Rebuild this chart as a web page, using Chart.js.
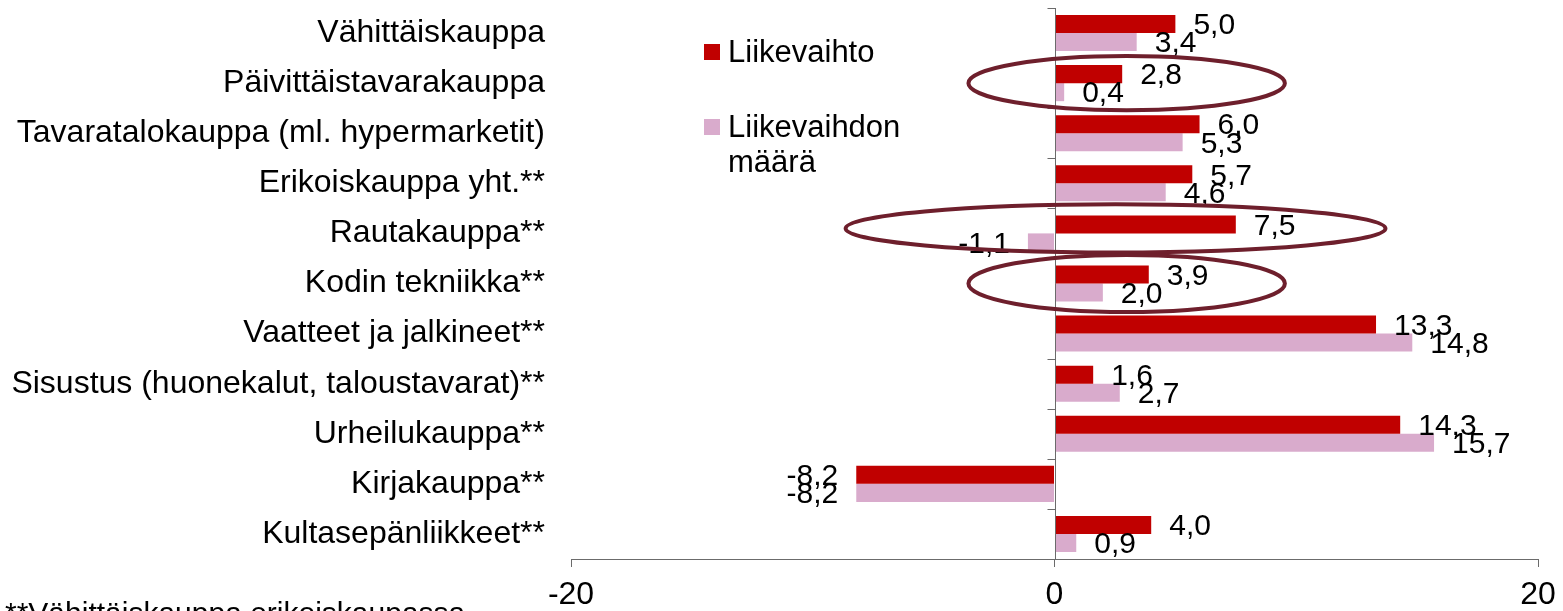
<!DOCTYPE html>
<html lang="fi">
<head>
<meta charset="utf-8">
<title>Liikevaihto toimialoittain</title>
<script src="https://cdn.jsdelivr.net/npm/chart.js@4/dist/chart.umd.min.js"></script>
<style>
  html, body { margin: 0; padding: 0; background: #fff; overflow: hidden; }
</style>
</head>
<body>
<canvas id="kaavio" width="1563" height="611"></canvas>
<script>
// Toimialat (ylhäältä alas)
var toimialat = [
  'Vähittäiskauppa',
  'Päivittäistavarakauppa',
  'Tavaratalokauppa (ml. hypermarketit)',
  'Erikoiskauppa yht.**',
  'Rautakauppa**',
  'Kodin tekniikka**',
  'Vaatteet ja jalkineet**',
  'Sisustus (huonekalut, taloustavarat)**',
  'Urheilukauppa**',
  'Kirjakauppa**',
  'Kultasepänliikkeet**'
];

// Muutos-% (luettu kuvasta)
var liikevaihto = [5.0, 2.8, 6.0, 5.7, 7.5, 3.9, 13.3, 1.6, 14.3, -8.2, 4.0];
var liikevaihdonMaara = [3.4, 0.4, 5.3, 4.6, -1.1, 2.0, 14.8, 2.7, 15.7, -8.2, 0.9];

// X-akselin asteikko
var xMin = -20;
var xMax = 20;
var xVali = 20;

var alaviite = '**Vähittäiskauppa erikoiskaupassa';

// Korostetut rivit (ellipsit)
var korostukset = [
  { toimiala: 'Päivittäistavarakauppa', alku: -3.56, loppu: 9.53, korkeus: 1.08, siirto: 0 },
  { toimiala: 'Rautakauppa**', alku: -8.64, loppu: 13.69, korkeus: 0.96, siirto: -0.1 },
  { toimiala: 'Kodin tekniikka**', alku: -3.56, loppu: 9.53, korkeus: 1.14, siirto: 0 }
];

var fontti = '"Liberation Sans", Arial, sans-serif';
var harmaa = '#6b6b6b';

// Arvojen tekstit palkkien päähän
var arvoTekstit = {
  id: 'arvoTekstit',
  afterDatasetsDraw: function (chart) {
    var ctx = chart.ctx;
    ctx.save();
    ctx.font = '30px ' + fontti;
    ctx.fillStyle = '#000';
    ctx.textBaseline = 'middle';
    chart.data.datasets.forEach(function (ds, i) {
      chart.getDatasetMeta(i).data.forEach(function (bar, j) {
        var v = ds.data[j];
        var teksti = v.toFixed(1).replace('.', ',');
        if (v < 0) {
          ctx.textAlign = 'right';
          ctx.fillText(teksti, bar.x - 18, bar.y + 2);
        } else {
          ctx.textAlign = 'left';
          ctx.fillText(teksti, bar.x + 18, bar.y + 2);
        }
      });
    });
    ctx.restore();
  }
};

// Nollaviiva ja sen väliviivat
var nollaAkseli = {
  id: 'nollaAkseli',
  afterDatasetsDraw: function (chart) {
    var ctx = chart.ctx;
    var xs = chart.scales.x;
    var ys = chart.scales.y;
    var x0 = Math.round(xs.getPixelForValue(0)) + 0.5;
    ctx.save();
    ctx.strokeStyle = harmaa;
    ctx.lineWidth = 1;
    ctx.beginPath();
    ctx.moveTo(x0, chart.chartArea.top);
    ctx.lineTo(x0, chart.chartArea.bottom);
    for (var i = 0; i <= toimialat.length; i++) {
      var y = Math.round(ys.getPixelForValue(i - 0.5)) + 0.5;
      ctx.moveTo(x0 - 8, y);
      ctx.lineTo(x0, y);
    }
    ctx.stroke();
    ctx.restore();
  }
};

// Selite, ellipsit ja alaviite
var lisat = {
  id: 'lisat',
  afterDraw: function (chart) {
    var ctx = chart.ctx;
    var xs = chart.scales.x;
    var ys = chart.scales.y;
    ctx.save();

    // ellipsit
    var rivi = ys.getPixelForValue(1) - ys.getPixelForValue(0);
    ctx.strokeStyle = '#6e1f2c';
    ctx.lineWidth = 4;
    korostukset.forEach(function (k) {
      var idx = toimialat.indexOf(k.toimiala);
      if (idx < 0) return;
      var xa = xs.getPixelForValue(k.alku);
      var xb = xs.getPixelForValue(k.loppu);
      var yc = ys.getPixelForValue(idx + k.siirto);
      ctx.beginPath();
      ctx.ellipse((xa + xb) / 2, yc, (xb - xa) / 2, rivi * k.korkeus / 2, 0, 0, Math.PI * 2);
      ctx.stroke();
    });

    // selite
    ctx.font = '31px ' + fontti;
    ctx.textAlign = 'left';
    ctx.textBaseline = 'alphabetic';
    var ylaReuna = [44, 119];
    chart.data.datasets.forEach(function (ds, i) {
      ctx.fillStyle = ds.backgroundColor;
      ctx.fillRect(704, ylaReuna[i], 16, 16);
      ctx.fillStyle = '#000';
      var sanat = ds.label.split(' ');
      var rivit = [];
      var nyk = '';
      sanat.forEach(function (s) {
        var koe = nyk ? nyk + ' ' + s : s;
        if (nyk && ctx.measureText(koe).width > 190) { rivit.push(nyk); nyk = s; }
        else nyk = koe;
      });
      rivit.push(nyk);
      rivit.forEach(function (r, n) {
        ctx.fillText(r, 728, ylaReuna[i] + 18 + n * 35);
      });
    });

    // alaviite
    ctx.font = '30px ' + fontti;
    ctx.fillStyle = '#000';
    ctx.fillText(alaviite, 5, 623);
    ctx.restore();
  }
};

var ctx = document.getElementById('kaavio').getContext('2d');

var kaavio = new Chart(ctx, {
  type: 'bar',
  data: {
    labels: toimialat,
    datasets: [{
      label: 'Liikevaihto',
      data: liikevaihto,
      backgroundColor: '#c00000',
      categoryPercentage: 0.72,
      barPercentage: 1.0
    }, {
      label: 'Liikevaihdon määrä',
      data: liikevaihdonMaara,
      backgroundColor: '#d9abcc',
      categoryPercentage: 0.72,
      barPercentage: 1.0
    }]
  },
  options: {
    indexAxis: 'y',
    responsive: false,
    animation: false,
    layout: { padding: { top: 8, right: 25, left: 0, bottom: 0 } },
    plugins: {
      legend: { display: false },
      tooltip: { enabled: false }
    },
    scales: {
      x: {
        min: xMin,
        max: xMax,
        ticks: {
          stepSize: xVali,
          color: '#000',
          font: { family: fontti, size: 32 },
          padding: 9
        },
        grid: {
          drawOnChartArea: false,
          tickLength: 8,
          tickColor: harmaa
        },
        border: { color: harmaa },
        afterFit: function (s) {
          s.height = 52;
          s.paddingLeft = 0;
          s.paddingRight = 0;
        }
      },
      y: {
        ticks: {
          color: '#000',
          font: { family: fontti, size: 32 },
          padding: 26
        },
        grid: { display: false, drawTicks: false },
        border: { display: false },
        afterFit: function (s) {
          s.width = 571;
          s.paddingTop = 0;
          s.paddingBottom = 0;
        }
      }
    }
  },
  plugins: [nollaAkseli, arvoTekstit, lisat]
});
</script>
</body>
</html>
